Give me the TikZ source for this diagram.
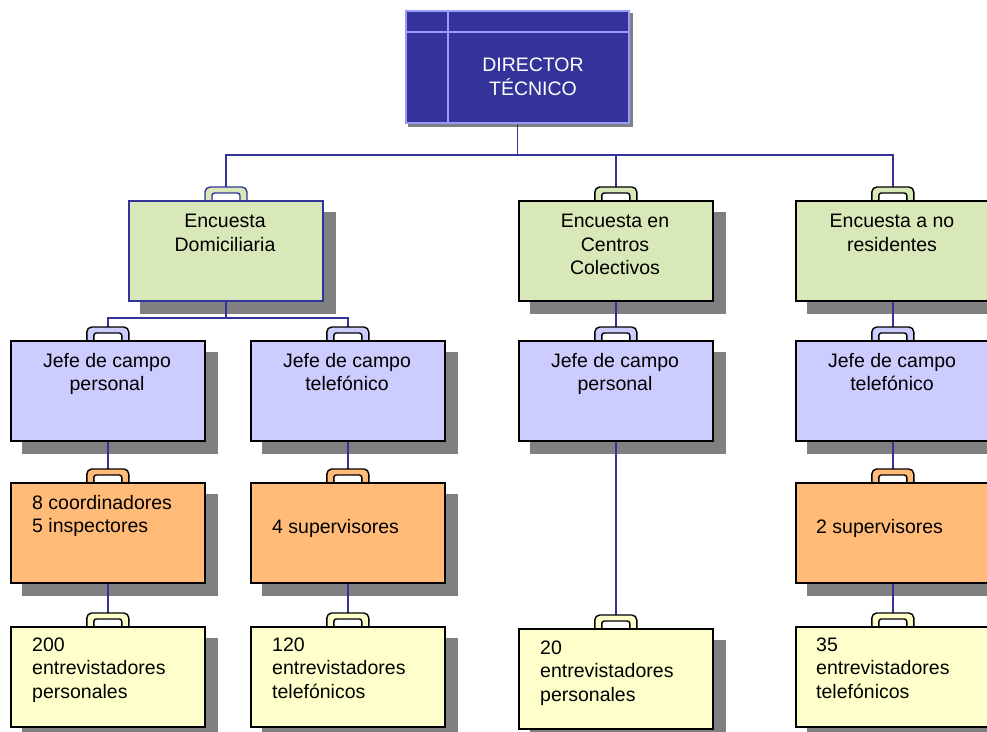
\documentclass[tikz,border=0pt]{standalone}
\usepackage{fontspec}
\setmainfont{Liberation Sans}
\usetikzlibrary{calc}
\definecolor{navy}{HTML}{333399}
\definecolor{dirborder}{HTML}{9999FF}
\definecolor{lvgreen}{HTML}{D9E8B8}
\definecolor{lav}{HTML}{CCCCFF}
\definecolor{org}{HTML}{FFBB77}
\definecolor{ylw}{HTML}{FFFFCC}
\definecolor{shd}{HTML}{808080}
\pgfdeclarelayer{shadowlayer}
\pgfdeclarelayer{linelayer}
\pgfsetlayers{shadowlayer,linelayer,main}
\begin{document}
\begin{tikzpicture}[x=1pt,y=-1pt,
  box/.style={draw=black, line width=1.6pt, minimum width=194pt, minimum height=100pt, inner sep=0pt, anchor=north west},
  gbox/.style={box, fill=lvgreen},
  lbox/.style={box, fill=lav},
  obox/.style={box, fill=org},
  ybox/.style={box, fill=ylw},
  txt/.style={font=\fontsize{19.5}{23.5}\selectfont, inner sep=0pt, align=center},
  ltxt/.style={txt, align=left, anchor=west},
  conn/.style={draw=navy, line width=1.4pt},
  pics/handle/.style 2 args={code={
    \filldraw[fill=#1, draw=#2, line width=1.4pt, rounded corners=5pt]
      (-21,6) -- (-21,-13) -- (21,-13) -- (21,6) -- cycle;
    \filldraw[fill=white, draw=#2, line width=1.4pt, rounded corners=2.5pt]
      (-14,6) -- (-14,-7) -- (14,-7) -- (14,6) -- cycle;
  }}
]
\useasboundingbox (0,0) rectangle (987,731);
\clip (0,0) rectangle (987,731);

% Director
\node[draw=dirborder, fill=navy, line width=2pt, minimum width=223pt, minimum height=112pt, inner sep=0pt, anchor=north west] (dir) at (405,10) {};
\draw[dirborder, line width=2pt] ([xshift=43pt]dir.north west) -- ([xshift=43pt]dir.south west);
\draw[dirborder, line width=2pt] ([yshift=-22pt]dir.north west) -- ([yshift=-22pt]dir.north east);
\node[txt, text=white] (tdir) at (533,76.75) {DIRECTOR\\TÉCNICO};

% Level 1
\node[gbox, draw=navy, line width=2pt] (dom) at (128,200) {};
\node[gbox] (cen) at (518,200) {};
\node[gbox] (nor) at (795,200) {};
\node[txt] (tdom) at (225,232.75) {Encuesta\\Domiciliaria};
\node[txt] (tcen) at (615,244.5) {Encuesta en\\Centros\\Colectivos};
\node[txt] (tnor) at (892,232.75) {Encuesta a no\\residentes};

% Level 2
\node[lbox] (j1) at (10,340) {};
\node[lbox] (j2) at (250,340) {};
\node[lbox] (j3) at (518,340) {};
\node[lbox] (j4) at (795,340) {};
\node[txt] (tj1) at (107,374) {Jefe de campo\\personal};
\node[txt] (tj2) at (347,372) {Jefe de campo\\telefónico};
\node[txt] (tj3) at (615,374) {Jefe de campo\\personal};
\node[txt] (tj4) at (892,372) {Jefe de campo\\telefónico};

% Level 3
\node[obox] (o1) at (10,482) {};
\node[obox] (o2) at (250,482) {};
\node[obox] (o4) at (795,482) {};
\node[ltxt] (to1) at (32,516) {8 coordinadores\\5 inspectores};
\node[ltxt] (to2) at (272,528) {4 supervisores};
\node[ltxt] (to4) at (816,528) {2 supervisores};

% Level 4
\node[ybox] (y1) at (10,626) {};
\node[ybox] (y2) at (250,626) {};
\node[ybox] (y3) at (518,628) {};
\node[ybox] (y4) at (795,626) {};
\node[ltxt] (ty1) at (32,670) {200\\entrevistadores\\personales};
\node[ltxt] (ty2) at (272,668) {120\\entrevistadores\\telefónicos};
\node[ltxt] (ty3) at (540,673) {20\\entrevistadores\\personales};
\node[ltxt] (ty4) at (816,668) {35\\entrevistadores\\telefónicos};

% handle tops
\foreach \b in {dom,cen,nor,j1,j2,j3,j4,o1,o2,o4,y1,y2,y3,y4}
  \coordinate (h\b) at ([yshift=13pt]\b.north);

\begin{pgfonlayer}{shadowlayer}
  \fill[shd] ([shift={(3pt,-3pt)}]dir.north west) rectangle ([shift={(3pt,-3pt)}]dir.south east);
  \foreach \b in {dom,cen,nor,j1,j2,j3,j4,o1,o2,o4,y1,y2,y3,y4}
    \fill[shd] ([shift={(12pt,-12pt)}]\b.north west) rectangle ([shift={(12pt,-12pt)}]\b.south east);
\end{pgfonlayer}

\begin{pgfonlayer}{linelayer}
  \coordinate (bus) at ($(dir.south)+(0,31)$);
  \draw[conn] (dir.south) -- (bus);
  \draw[conn] (hdom) |- (bus) -| (hnor);
  \draw[conn] (bus) -| (hcen);
  \coordinate (bus2) at ($(dom.south)+(0,16)$);
  \draw[conn] (dom.south) -- (bus2);
  \draw[conn] (hj1) |- (bus2) -| (hj2);
  \draw[conn] (cen.south) -- (hj3);
  \draw[conn] (nor.south) -- (hj4);
  \draw[conn] (j1.south) -- (ho1);
  \draw[conn] (j2.south) -- (ho2);
  \draw[conn] (j3.south) -- (hy3);
  \draw[conn] (j4.south) -- (ho4);
  \draw[conn] (o1.south) -- (hy1);
  \draw[conn] (o2.south) -- (hy2);
  \draw[conn] (o4.south) -- (hy4);
  \pic at (dom.north) {handle={lvgreen}{navy}};
  \pic at (cen.north) {handle={lvgreen}{black}};
  \pic at (nor.north) {handle={lvgreen}{black}};
  \foreach \b in {j1,j2,j3,j4} \pic at (\b.north) {handle={lav}{black}};
  \foreach \b in {o1,o2,o4} \pic at (\b.north) {handle={org}{black}};
  \foreach \b in {y1,y2,y3,y4} \pic at (\b.north) {handle={ylw}{black}};
\end{pgfonlayer}
\end{tikzpicture}
\end{document}
